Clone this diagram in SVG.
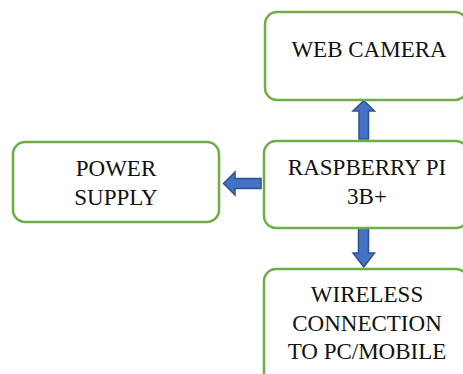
<svg xmlns="http://www.w3.org/2000/svg" width="463" height="374" viewBox="0 0 463 374">
<style>
.box{fill:#fff;stroke:#70AD47;stroke-width:2.5}
.arrow{fill:#4472C4;stroke:#2F528F;stroke-width:1.5;stroke-linejoin:miter}
text{font-family:"Liberation Serif","Times New Roman",serif;font-size:23px;fill:#111;text-anchor:middle}
</style>
<rect width="463" height="374" fill="#fff"/>
<g id="connectors">
<path class="arrow" d="M359,139 V111 H353 L363.8,100.5 L374.5,111 H368.5 V139 Z"/>
<path class="arrow" d="M261,178.5 H235 V172 L223.5,183.5 L235,195 V188.5 H261 Z"/>
<path class="arrow" d="M358.5,227 V253 H353 L363.8,267 L374.5,253 H368.5 V227 Z"/>
</g>
<g id="web-camera">
<rect class="box" x="265" y="12" width="202" height="88" rx="12"/>
<text x="369" y="57">WEB CAMERA</text>
</g>
<g id="power-supply">
<rect class="box" x="13" y="142" width="206" height="80" rx="12"/>
<text x="116" y="175.5">POWER</text>
<text x="116" y="205">SUPPLY</text>
</g>
<g id="raspberry-pi">
<rect class="box" x="264" y="141" width="204" height="87" rx="12"/>
<text x="367" y="175">RASPBERRY PI</text>
<text x="367" y="204">3B+</text>
</g>
<g id="wireless">
<rect class="box" x="264" y="269" width="204" height="120" rx="12"/>
<text x="367" y="302">WIRELESS</text>
<text x="367" y="331">CONNECTION</text>
<text x="367" y="359">TO PC/MOBILE</text>
</g>
</svg>
